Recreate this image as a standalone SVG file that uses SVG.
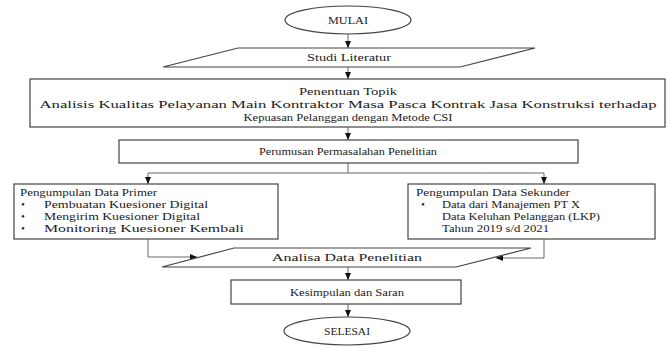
<svg xmlns="http://www.w3.org/2000/svg" width="667" height="347" viewBox="0 0 667 347">
<defs>
<marker id="ah" markerWidth="8" markerHeight="6" refX="7" refY="3" orient="auto" markerUnits="userSpaceOnUse">
<path d="M0,0 L7,3 L0,6 Z" fill="#111"/>
</marker>
<style>
.shape{fill:#fff;stroke:#444;stroke-width:1.2}
text{font-family:'Liberation Serif','DejaVu Serif',serif;font-size:11px;fill:#222}
.c{text-anchor:middle}
.ln{fill:none;stroke:#666;stroke-width:1}
</style>
</defs>
<rect width="667" height="347" fill="#fff"/>
<g id="connectors">
<line class="ln" x1="348" y1="34" x2="348" y2="48" marker-end="url(#ah)"/>
<line class="ln" x1="348" y1="67" x2="348" y2="79" marker-end="url(#ah)"/>
<line class="ln" x1="348" y1="127" x2="348" y2="140" marker-end="url(#ah)"/>
<polyline class="ln" points="348,163 348,173"/>
<polyline class="ln" points="148,173 544,173 544,184" marker-end="url(#ah)"/>
<line class="ln" x1="148" y1="173" x2="148" y2="184" marker-end="url(#ah)"/>
<polyline class="ln" points="148,239 148,257 197,257" marker-end="url(#ah)"/>
<polyline class="ln" points="544,239 544,258 496,258" marker-end="url(#ah)"/>
<line class="ln" x1="348" y1="267" x2="348" y2="280" marker-end="url(#ah)"/>
<line class="ln" x1="348" y1="304" x2="348" y2="317" marker-end="url(#ah)"/>
</g>
<g id="mulai">
<ellipse class="shape" cx="348" cy="20" rx="63" ry="14"/>
<text class="c" x="348" y="24" textLength="40" lengthAdjust="spacingAndGlyphs">MULAI</text>
</g>
<g id="studi">
<polygon class="shape" points="238,48 535,48 460,67 163,67"/>
<text class="c" x="349" y="61" textLength="84" lengthAdjust="spacingAndGlyphs">Studi Literatur</text>
</g>
<g id="topik">
<rect class="shape" x="30" y="79" width="635" height="48"/>
<text class="c" x="348" y="95" textLength="98" lengthAdjust="spacingAndGlyphs">Penentuan Topik</text>
<text class="c" x="348" y="108" textLength="617" lengthAdjust="spacingAndGlyphs">Analisis Kualitas Pelayanan Main Kontraktor Masa Pasca Kontrak Jasa Konstruksi terhadap</text>
<text class="c" x="348" y="121" textLength="209" lengthAdjust="spacingAndGlyphs">Kepuasan Pelanggan dengan Metode CSI</text>
</g>
<g id="perumusan">
<rect class="shape" x="119" y="140" width="459" height="23"/>
<text class="c" x="348" y="155" textLength="178" lengthAdjust="spacingAndGlyphs">Perumusan Permasalahan Penelitian</text>
</g>
<g id="primer">
<rect class="shape" x="14" y="184" width="264" height="55"/>
<text x="20" y="196" textLength="137" lengthAdjust="spacingAndGlyphs">Pengumpulan Data Primer</text>
<text x="21" y="208">•</text>
<text x="44" y="208" textLength="164" lengthAdjust="spacingAndGlyphs">Pembuatan Kuesioner Digital</text>
<text x="21" y="220">•</text>
<text x="44" y="220" textLength="156" lengthAdjust="spacingAndGlyphs">Mengirim Kuesioner Digital</text>
<text x="21" y="232">•</text>
<text x="44" y="232" textLength="200" lengthAdjust="spacingAndGlyphs">Monitoring Kuesioner Kembali</text>
</g>
<g id="sekunder">
<rect class="shape" x="408" y="184" width="247" height="55"/>
<text x="416" y="196" textLength="154" lengthAdjust="spacingAndGlyphs">Pengumpulan Data Sekunder</text>
<text x="421" y="208">•</text>
<text x="442" y="208" textLength="138" lengthAdjust="spacingAndGlyphs">Data dari Manajemen PT X</text>
<text x="442" y="220" textLength="158" lengthAdjust="spacingAndGlyphs">Data Keluhan Pelanggan (LKP)</text>
<text x="442" y="232" textLength="107" lengthAdjust="spacingAndGlyphs">Tahun 2019  s/d 2021</text>
</g>
<g id="analisa">
<polygon class="shape" points="234,248 531,248 456,267 162,267"/>
<text class="c" x="347" y="261" textLength="150" lengthAdjust="spacingAndGlyphs">Analisa Data Penelitian</text>
</g>
<g id="kesimpulan">
<rect class="shape" x="231" y="280" width="230" height="24"/>
<text class="c" x="347" y="296" textLength="114" lengthAdjust="spacingAndGlyphs">Kesimpulan dan Saran</text>
</g>
<g id="selesai">
<ellipse class="shape" cx="347" cy="331" rx="63" ry="14"/>
<text class="c" x="347" y="335" textLength="46" lengthAdjust="spacingAndGlyphs">SELESAI</text>
</g>
</svg>
